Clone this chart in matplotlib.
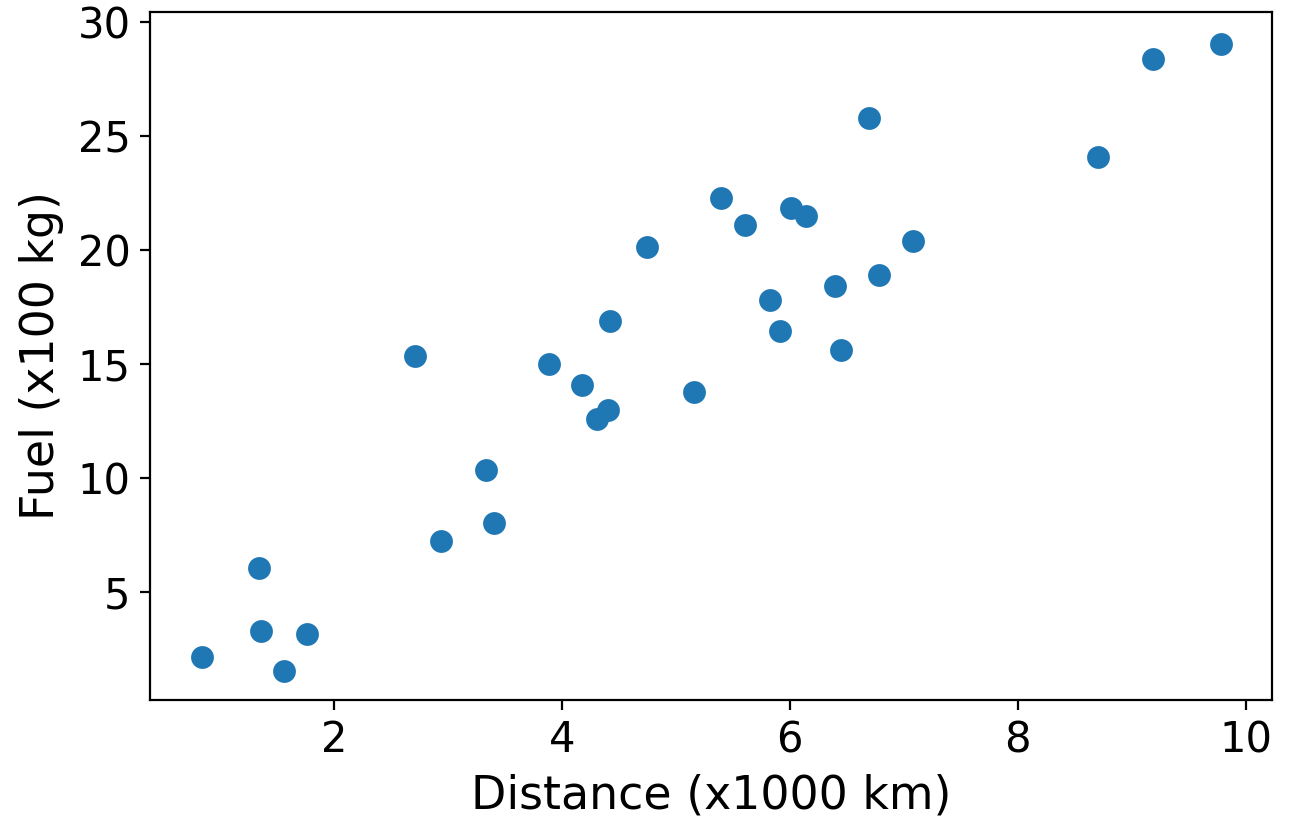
import matplotlib

matplotlib.use("Agg")
import matplotlib.pyplot as plt

# 距离 (x1000 km) 与油耗 (x100 kg)
distance = [0.84, 1.34, 1.36, 1.56, 1.76, 2.71, 2.94, 3.33, 3.40, 3.89,
            4.18, 4.31, 4.40, 4.42, 4.75, 5.16, 5.40, 5.61, 5.83, 5.91,
            6.01, 6.14, 6.40, 6.45, 6.69, 6.78, 7.08, 8.70, 9.19, 9.78]
fuel = [2.15, 6.05, 3.29, 1.54, 3.16, 15.35, 7.24, 10.35, 8.03, 15.0,
        14.08, 12.59, 12.98, 16.89, 20.13, 13.77, 22.28, 21.1, 17.81, 16.45,
        21.84, 21.49, 18.42, 15.61, 25.79, 18.9, 20.39, 24.08, 28.38, 29.04]


def main():
    fig = plt.figure(figsize=(6.47, 4.095), dpi=200)
    ax = fig.add_axes([150 / 1294, 1 - 700 / 819, 1122 / 1294, 688 / 819])

    ax.scatter(distance, fuel, s=52, color="#1f77b4")

    ax.set_xlim(0.386, 10.23)
    ax.set_ylim(0.26, 30.44)
    ax.set_xticks([2, 4, 6, 8, 10])
    ax.set_yticks([5, 10, 15, 20, 25, 30])
    ax.tick_params(labelsize=15)
    ax.set_xlabel("Distance (x1000 km)", fontsize=16.5, labelpad=4.5)
    ax.set_ylabel("Fuel (x100 kg)", fontsize=16.5, labelpad=5)

    fig.savefig("out.png", dpi=200, facecolor="white")
    plt.close(fig)


if __name__ == "__main__":
    main()
